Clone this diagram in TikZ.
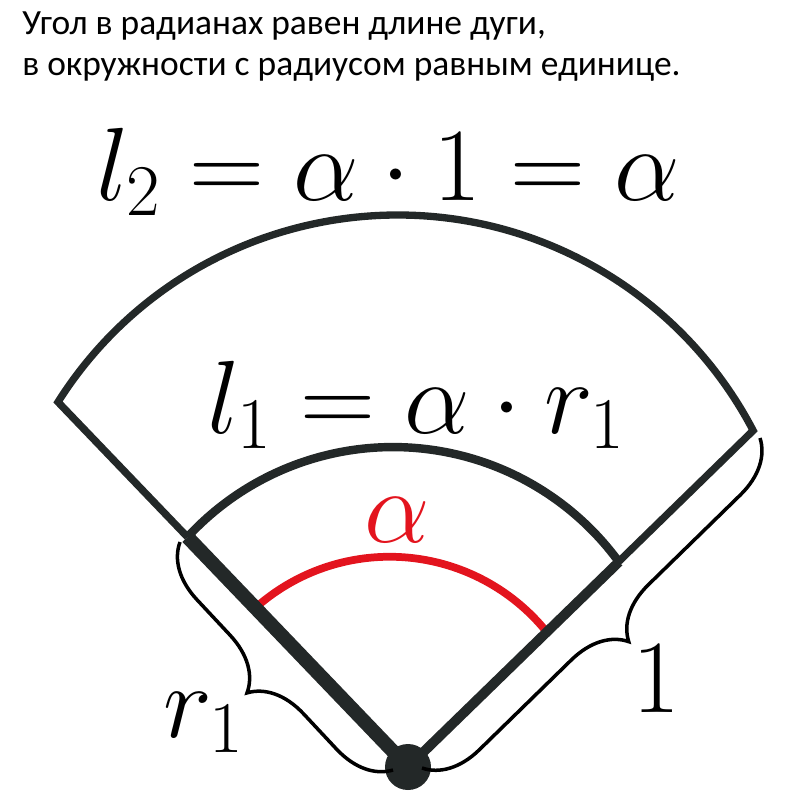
\RequirePackage{fix-cm}
\documentclass[tikz,border=0pt]{standalone}
\usepackage{fontspec}
\newfontfamily\headfont{Carlito}
\usepackage{tikz}
\usetikzlibrary{calc,decorations.pathreplacing}
\definecolor{ink}{HTML}{232828}
\definecolor{alred}{HTML}{E3141E}
\tikzstyle{rim}=[draw=ink,line width=5.2pt,line join=miter]
\tikzstyle{spoke}=[draw=ink,line width=10pt]
\tikzstyle{curly}=[decorate,decoration={
    brace,
    amplitude=1.35cm,
    aspect=.5},line width=2.5pt]
\tikzstyle{dot}=[circle,fill=ink,inner sep=0pt,minimum size=1.15cm]
\tikzstyle{lab}=[inner sep=0pt,font=\fontsize{74}{80}\selectfont]
\tikzstyle{head}=[inner sep=0pt,font=\headfont\fontsize{25.2}{30}\selectfont]

\begin{document}
\begin{tikzpicture}[x=0.025cm,y=-0.025cm]
      \useasboundingbox (0,0) rectangle (800,808);
      \node[head,anchor=base west] (t1) at (22,35) {Угол в радианах равен длине дуги,};
      \node[head,anchor=base west] (t2) at (22,75) {в окружности с радиусом равным единице.};
      \coordinate (O) at (408,767);
      \coordinate (L) at (58,402);
      \coordinate (A1) at ($(L)!0.37!(O)$);
      \coordinate (P1) at ($(L)!0.564!(O)$);
      % red arc for the angle
      \draw[alred,line width=5.5pt] (P1) arc[start angle=-131.7,end angle=-38.9,radius=201.7];
      % outer arc, radius 1
      \draw[rim] (A1) -- (L) arc[start angle=-147.7,end angle=-27.6,radius=401.5] coordinate (R) -- (O);
      % inner arc, radius r1
      \draw[rim,line width=6pt] (A1) arc[start angle=-137.3,end angle=-36.1,radius=279.6] coordinate (B1);
      \draw[spoke] (A1)--(O);
      \draw[spoke,line width=7pt] (B1)--(O);
      \node[dot] (v) at (O) {};
      % braces
      \coordinate (bl1) at (393,770);
      \coordinate (bl2) at (180,542);
      \coordinate (br1) at (760,438);
      \coordinate (br2) at (422,768);
      \draw[curly] (bl1)--(bl2);
      \draw[curly] (br1)--(br2);
      \node[lab,anchor=base west] (r1) at (163,737) {$r_1$};
      \node[lab,anchor=base] (one) at (656,712) {$1$};
      % formulas
      \node[lab,anchor=base] (ltwo) at (388,200) {$l_2 = \alpha\cdot 1 = \alpha$};
      \node[lab,anchor=base] (lone) at (416,433) {$l_1 = \alpha\cdot r_1$};
      \node[lab,anchor=base,text=alred] (al) at (397,542) {$\alpha$};
\end{tikzpicture}
\end{document}
